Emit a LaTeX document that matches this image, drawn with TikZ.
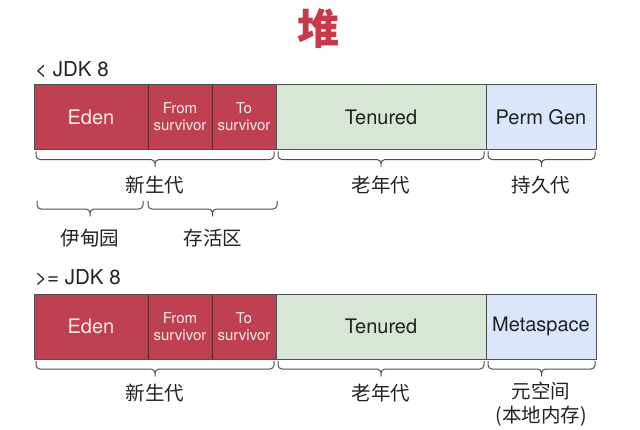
\documentclass[tikz,border=0pt]{standalone}
\usepackage{fontspec}
\setmainfont{TeX Gyre Heros}
\newfontfamily\cjk{Noto Sans CJK SC}
\usetikzlibrary{calc}
\definecolor{edenred}{HTML}{BF4050}
\definecolor{redtext}{HTML}{FBECEC}
\definecolor{tengreen}{HTML}{D7E6D5}
\definecolor{permblue}{HTML}{DAE6FA}
\definecolor{edgegray}{HTML}{505050}
\definecolor{reddiv}{HTML}{5A2228}
\definecolor{titlered}{HTML}{C83A4A}
\definecolor{textdark}{HTML}{222222}
\tikzset{
  cell/.style={rectangle, inner sep=0pt, outer sep=0pt, minimum height=65pt, line width=0.9pt, align=center, font=\fontsize{20}{22}\selectfont},
  redcell/.style={cell, fill=edenred, draw=reddiv, text=redtext},
  smallred/.style={redcell, font=\fontsize{15}{17}\selectfont},
  greencell/.style={cell, fill=tengreen, draw=edgegray, text=textdark},
  bluecell/.style={cell, fill=permblue, draw=edgegray, text=textdark},
  bracestyle/.style={draw=edgegray, line width=1pt, line cap=round,
    to path={let \p1=(\tikztostart), \p2=(\tikztotarget) in
      [rounded corners=4pt]
      (\p1) -- (\x1,\y1-8pt) -- ({(\x1+\x2)/2},\y1-8pt) -- ({(\x1+\x2)/2},\y1-15pt)
      (\p2) -- (\x2,\y1-8pt) -- ({(\x1+\x2)/2},\y1-8pt) -- ({(\x1+\x2)/2},\y1-15pt)}},
  cnlabel/.style={font=\cjk\fontsize{19.5}{25}\selectfont, text=textdark, align=center, inner sep=0pt},
  verlabel/.style={font=\fontsize{20.5}{22}\selectfont, text=textdark, anchor=west, inner sep=0pt}
}
\begin{document}
\begin{tikzpicture}[x=1pt, y=-1pt]
\useasboundingbox[fill=white] (0,0) rectangle (640,429);
% title
\node[font=\cjk\bfseries\fontsize{42}{44}\selectfont, text=titlered, inner sep=0pt] (title) at (318,29) {堆};
% ---------- row 1 ----------
\node[verlabel] (v1) at (35,70) {< JDK 8};
\node[redcell, minimum width=114pt] (eden1) at (91,117) {Eden};
\node[smallred, minimum width=64pt] (from1) at (180,117) {From\\survivor};
\node[smallred, minimum width=64pt] (to1) at (244,117) {To\\survivor};
\node[greencell, minimum width=210pt] (ten1) at (381,117) {Tenured};
\node[bluecell, minimum width=110pt] (perm1) at (541,117) {Perm Gen};
\draw[edgegray, line width=0.9pt] (eden1.north west) rectangle (perm1.south east);
% braces row 1
\draw[bracestyle] ([xshift=2pt,yshift=-2pt]eden1.south west) to ([xshift=-2pt,yshift=-2pt]to1.south east);
\draw[bracestyle] ([xshift=2pt,yshift=-2pt]ten1.south west) to ([xshift=-2pt,yshift=-2pt]ten1.south east);
\draw[bracestyle] ([xshift=2pt,yshift=-2pt]perm1.south west) to ([xshift=-1pt,yshift=-2pt]perm1.south east);
\node[cnlabel] (young1) at (155,185) {新生代};
\node[cnlabel] (old1) at (381,185) {老年代};
\node[cnlabel] (permlab) at (541,185) {持久代};
% second-level braces
\coordinate (e1a) at (37,201);
\coordinate (e1b) at (143,201);
\coordinate (s1a) at (148,201);
\coordinate (s1b) at (277,201);
\draw[bracestyle] (e1a) to (e1b);
\draw[bracestyle] (s1a) to (s1b);
\node[cnlabel] (edenlab) at (90,238) {伊甸园};
\node[cnlabel] (survlab) at (213,238) {存活区};
% ---------- row 2 ----------
\node[verlabel] (v2) at (35,278) {>= JDK 8};
\node[redcell, minimum width=114pt] (eden2) at (91,326.5) {Eden};
\node[smallred, minimum width=64pt] (from2) at (180,326.5) {From\\survivor};
\node[smallred, minimum width=64pt] (to2) at (244,326.5) {To\\survivor};
\node[greencell, minimum width=210pt] (ten2) at (381,326.5) {Tenured};
\node[bluecell, minimum width=110pt] (meta2) at (541,326.5) {Metaspace};
\draw[edgegray, line width=0.9pt] (eden2.north west) rectangle (meta2.south east);
\draw[bracestyle] ([xshift=2pt,yshift=-2pt]eden2.south west) to ([xshift=-2pt,yshift=-2pt]to2.south east);
\draw[bracestyle] ([xshift=2pt,yshift=-2pt]ten2.south west) to ([xshift=-2pt,yshift=-2pt]ten2.south east);
\draw[bracestyle] ([xshift=2pt,yshift=-2pt]meta2.south west) to ([xshift=-1pt,yshift=-2pt]meta2.south east);
\node[cnlabel] (young2) at (155,393) {新生代};
\node[cnlabel] (old2) at (381,393) {老年代};
\node[cnlabel] (metalab) at (541,391) {元空间};
\node[cnlabel] (native) at (541,416) {(本地内存)};
\end{tikzpicture}
\end{document}
